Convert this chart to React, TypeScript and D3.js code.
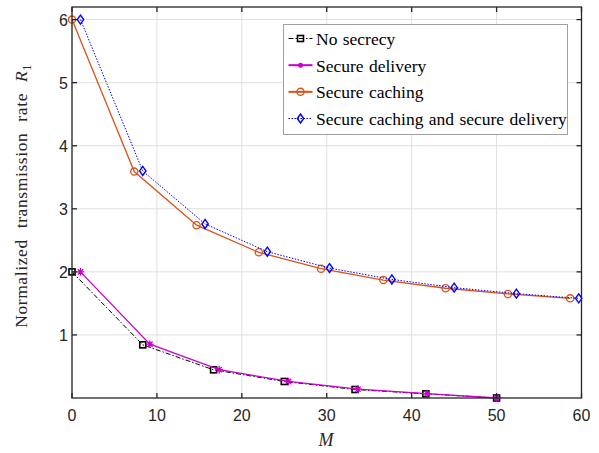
import React from "react";
import * as d3 from "d3";

const mNoSecrecy = [0, 8.33, 16.67, 25, 33.33, 41.67, 50];
const rNoSecrecy = [2, 0.843, 0.447, 0.262, 0.135, 0.066, 0];

const mSecDelivery = [1, 9.17, 17.33, 25.5, 33.67, 41.83, 50];
const rSecDelivery = [2, 0.853, 0.45, 0.262, 0.14, 0.07, 0];

const mSecCaching = [0, 7.33, 14.67, 22, 29.33, 36.67, 44, 51.33, 58.67];
const rSecCaching = [6, 3.59, 2.74, 2.31, 2.05, 1.87, 1.74, 1.65, 1.58];

const mSecBoth = [1, 8.33, 15.67, 23, 30.33, 37.67, 45, 52.33, 59.67];
const rSecBoth = [6, 3.6, 2.76, 2.32, 2.06, 1.88, 1.75, 1.655, 1.58];

const xTicks = [0, 10, 20, 30, 40, 50, 60];
const yTicks = [1, 2, 3, 4, 5, 6];
const legendLabels = [
  "No secrecy",
  "Secure delivery",
  "Secure caching",
  "Secure caching and secure delivery",
];

const W = 599;
const H = 453;
const margin = { left: 72, right: 17.5, top: 7, bottom: 55 };

type Marker = "square" | "star" | "circle" | "diamond";

function MarkerShape({ type, x, y, color }: { type: Marker; x: number; y: number; color: string }) {
  if (type === "square") {
    return <rect x={x - 3} y={y - 3} width={6} height={6} fill="none" stroke={color} strokeWidth={1.6} />;
  }
  if (type === "circle") {
    return <circle cx={x} cy={y} r={3.6} fill="none" stroke={color} strokeWidth={1.3} />;
  }
  if (type === "diamond") {
    return (
      <path
        d={`M${x},${y - 4.5}L${x + 3.2},${y}L${x},${y + 4.5}L${x - 3.2},${y}Z`}
        fill="none"
        stroke={color}
        strokeWidth={1.4}
      />
    );
  }
  const s = 3.8;
  const d = s * 0.7;
  return (
    <path
      d={`M${x - s},${y}L${x + s},${y}M${x},${y - s}L${x},${y + s}M${x - d},${y - d}L${x + d},${y + d}M${x - d},${y + d}L${x + d},${y - d}`}
      stroke={color}
      strokeWidth={1.3}
      fill="none"
    />
  );
}

export default function App() {
  const x = d3.scaleLinear().domain([0, 60]).range([margin.left, W - margin.right]);
  const y = d3.scaleLinear().domain([0, 6.2]).range([H - margin.bottom, margin.top]);

  const series = [
    { ms: mNoSecrecy, rs: rNoSecrecy, color: "#000000", dash: "5,2,1.5,2", width: 1, marker: "square" as Marker },
    { ms: mSecDelivery, rs: rSecDelivery, color: "#cc00cc", dash: undefined, width: 1.3, marker: "star" as Marker },
    { ms: mSecCaching, rs: rSecCaching, color: "#d95319", dash: undefined, width: 1.3, marker: "circle" as Marker },
    { ms: mSecBoth, rs: rSecBoth, color: "#0000ff", dash: "1.5,1.5", width: 1, marker: "diamond" as Marker },
  ];

  const line = d3
    .line<[number, number]>()
    .x((d) => x(d[0]))
    .y((d) => y(d[1]));

  const x0 = margin.left;
  const x1 = W - margin.right;
  const y0 = H - margin.bottom;
  const y1 = margin.top;
  const tick = 5;

  const legX = 283.5;
  const legY = 24.5;
  const legW = 284;
  const legH = 110;
  const legendMarkers: Marker[] = ["square", "circle", "circle", "diamond"];

  return (
    <svg
      width={W}
      height={H}
      style={{ position: "absolute", left: 0, top: 0, background: "#fff" }}
      xmlns="http://www.w3.org/2000/svg"
    >
      <rect x={0} y={0} width={W} height={H} fill="#fff" />
      {xTicks.map((t) => (
        <line key={"gx" + t} x1={x(t)} x2={x(t)} y1={y0} y2={y1} stroke="#dfdfdf" strokeWidth={1} />
      ))}
      {yTicks.map((t) => (
        <line key={"gy" + t} x1={x0} x2={x1} y1={y(t)} y2={y(t)} stroke="#dfdfdf" strokeWidth={1} />
      ))}
      {series.map((s, i) => {
        const pts = s.ms.map((m, j) => [m, s.rs[j]] as [number, number]);
        return (
          <g key={"s" + i}>
            <path d={line(pts) || ""} fill="none" stroke={s.color} strokeWidth={s.width} strokeDasharray={s.dash} />
            {pts.map((p, j) => (
              <MarkerShape key={j} type={s.marker} x={x(p[0])} y={y(p[1])} color={s.color} />
            ))}
          </g>
        );
      })}
      <rect x={x0} y={y1} width={x1 - x0} height={y0 - y1} fill="none" stroke="#262626" strokeWidth={1.3} />
      {xTicks.map((t) => (
        <g key={"tx" + t}>
          <line x1={x(t)} x2={x(t)} y1={y0} y2={y0 - tick} stroke="#262626" strokeWidth={1.3} />
          <line x1={x(t)} x2={x(t)} y1={y1} y2={y1 + tick} stroke="#262626" strokeWidth={1.3} />
          <text
            x={x(t)}
            y={421}
            textAnchor="middle"
            fontFamily="Liberation Sans, Arial, sans-serif"
            fontSize={16}
            fill="#262626"
          >
            {t}
          </text>
        </g>
      ))}
      {yTicks.map((t) => (
        <g key={"ty" + t}>
          <line x1={x0} x2={x0 + tick} y1={y(t)} y2={y(t)} stroke="#262626" strokeWidth={1.3} />
          <line x1={x1} x2={x1 - tick} y1={y(t)} y2={y(t)} stroke="#262626" strokeWidth={1.3} />
          <text
            x={68}
            y={y(t) + 6}
            textAnchor="end"
            fontFamily="Liberation Sans, Arial, sans-serif"
            fontSize={16}
            fill="#262626"
          >
            {t}
          </text>
        </g>
      ))}
      <text
        x={326}
        y={446}
        textAnchor="middle"
        fontFamily="Liberation Serif, serif"
        fontStyle="italic"
        fontSize={18}
        fill="#262626"
      >
        M
      </text>
      <text
        transform={`translate(27,196) rotate(-90)`}
        textAnchor="middle"
        fontFamily="Liberation Serif, serif"
        fontSize={17.5}
        fill="#262626"
        style={{ wordSpacing: "6px", letterSpacing: "0.6px" }}
      >
        Normalized transmission rate <tspan fontStyle="italic">R</tspan>
        <tspan fontSize={12} dy={4}>1</tspan>
      </text>
      <rect x={legX} y={legY} width={legW} height={legH} fill="#fff" stroke="#a0a0a0" strokeWidth={1} />
      {legendLabels.map((lab, i) => {
        const ly = 38.5 + i * 26.67;
        const s = series[i];
        const mk = i === 1 ? null : legendMarkers[i];
        return (
          <g key={"l" + i}>
            <line
              x1={288.5}
              x2={312.5}
              y1={ly}
              y2={ly}
              stroke={s.color}
              strokeWidth={i === 1 || i === 2 ? 2 : s.width}
              strokeDasharray={s.dash}
            />
            {mk ? (
              <MarkerShape type={mk} x={300.5} y={ly} color={s.color} />
            ) : (
              <circle cx={300.5} cy={ly} r={2.5} fill={s.color} />
            )}
            <text
              x={316}
              y={ly + 6.5}
              fontFamily="Liberation Serif, serif"
              fontSize={17.5}
              fill="#000"
              style={{ wordSpacing: "1px" }}
            >
              {lab}
            </text>
          </g>
        );
      })}
    </svg>
  );
}
